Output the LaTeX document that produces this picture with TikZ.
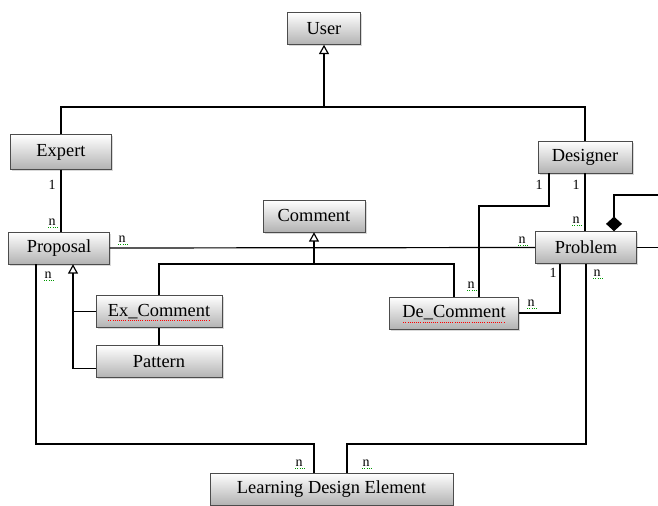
\documentclass[tikz,border=0pt]{standalone}
\usepackage{fontspec}
\setmainfont{Liberation Serif}
\usetikzlibrary{arrows.meta, shadows}
\tikzset{
  cls/.style={draw=gray!60!black, top color=white, bottom color=gray!60,
    drop shadow={opacity=0.3, shadow xshift=1.2pt, shadow yshift=-1.2pt},
    minimum height=24pt, inner sep=0pt, font=\fontsize{13.8}{16}\selectfont},
  link/.style={line width=0.9pt},
  gen/.style={line width=0.9pt, -{Triangle[open, length=7pt, width=7.5pt]}},
  comp/.style={line width=0.9pt, -{Diamond[length=11pt, width=12pt]}},
  mult/.style={inner sep=0pt, font=\fontsize{10.5}{12}\selectfont},
  spell/.style={line width=0.7pt, dash pattern=on 0.7pt off 0.9pt}
}

\begin{document}
\begin{tikzpicture}[x=0.75pt, y=-0.75pt]
		\useasboundingbox (0,0) rectangle (658,506);
		% classes
		\node[cls, minimum width=55pt] (user) at (324,28.5) {User};
		\node[cls, minimum width=76pt, minimum height=26pt] (expert) at (61,152) {Expert};
		\node[cls, minimum width=70.5pt] (designer) at (585,157) {Designer};
		\node[cls, minimum width=76.5pt] (comment) at (314,216) {Comment};
		\node[cls, minimum width=76pt] (proposal) at (59,248) {Proposal};
		\node[cls, minimum width=76pt] (problem) at (586,247.5) {Problem};
		\node[cls, minimum width=94.5pt] (excomment) at (159,311.5) {Ex\_Comment};
		\node[cls, minimum width=94.5pt] (pattern) at (159,361.5) {Pattern};
		\node[cls, minimum width=96.75pt] (decomment) at (454,313) {De\_Comment};
		\node[cls, minimum width=182pt] (lde) at (331.5,489) {Learning Design Element};
		% spell-check marks under the two names
		\draw[spell, red] ([xshift=-38pt, yshift=-7pt]excomment.center) -- ([xshift=38pt, yshift=-7pt]excomment.center);
		\draw[spell, red] ([xshift=-38pt, yshift=-7pt]decomment.center) -- ([xshift=38pt, yshift=-7pt]decomment.center);
		% bends
		\coordinate (ubar) at (324,107);
		\coordinate (cbar) at (314,264);
		\coordinate (pgen) at (73,369);
		\coordinate (dbend) at (479,206);
		\coordinate (lbend) at (314,444);
		\coordinate (rbend) at (347,444);
		\coordinate (aggr) at (658,195);
		\coordinate (pout) at (658,247.5);
		% generalisations
		\draw[gen] (ubar) -- (user.south);
		\draw[link] (expert.north) |- (ubar) -| (designer.north);
		\draw[gen] (cbar) -- (comment.south);
		\draw[link] (excomment.north) |- (cbar) -| (decomment.north);
		\draw[gen] ([yshift=-5.5pt]pattern.west) -| (proposal.south -| pgen);
		\draw[link] (excomment.west) -- (excomment.west -| pgen);
		\draw[link] (excomment.south) -- (pattern.north);
		% associations
		\draw[link] (expert.south) -- (expert.south |- proposal.north);
		\draw[link] (proposal.east) -- (problem.west);
		\draw[link] (designer.south) -- (designer.south |- problem.north);
		\draw[link] (designer.south -| 549,0) |- (dbend) -- (decomment.north -| dbend);
		\draw[link] (problem.south -| 560,0) |- (decomment.east);
		\draw[link] (proposal.south -| 36,0) |- (lbend) -- (lde.north -| lbend);
		\draw[link] (problem.south) |- (rbend) -- (lde.north -| rbend);
		\draw[link] (problem.east) -- (pout);
		\draw[comp] (aggr) -| (problem.north -| 614,0);
		% multiplicities
		\foreach \x/\y [count=\i] in {52/185, 539/185, 576/185, 553/273}
		  \node[mult] (one\i) at (\x,\y) {1};
		\foreach \x/\y [count=\i] in {52/222, 122/239, 522/240, 576/220, 597/273, 48/275,
		  471/285, 531/303, 299/463, 366/463} {
		  \node[mult] (many\i) at (\x,\y) {n};
		  \draw[spell, green!60!black] ([yshift=-1.6pt]many\i.south west) -- ([yshift=-1.6pt,xshift=1pt]many\i.south east);
		}
	\end{tikzpicture}
\end{document}
